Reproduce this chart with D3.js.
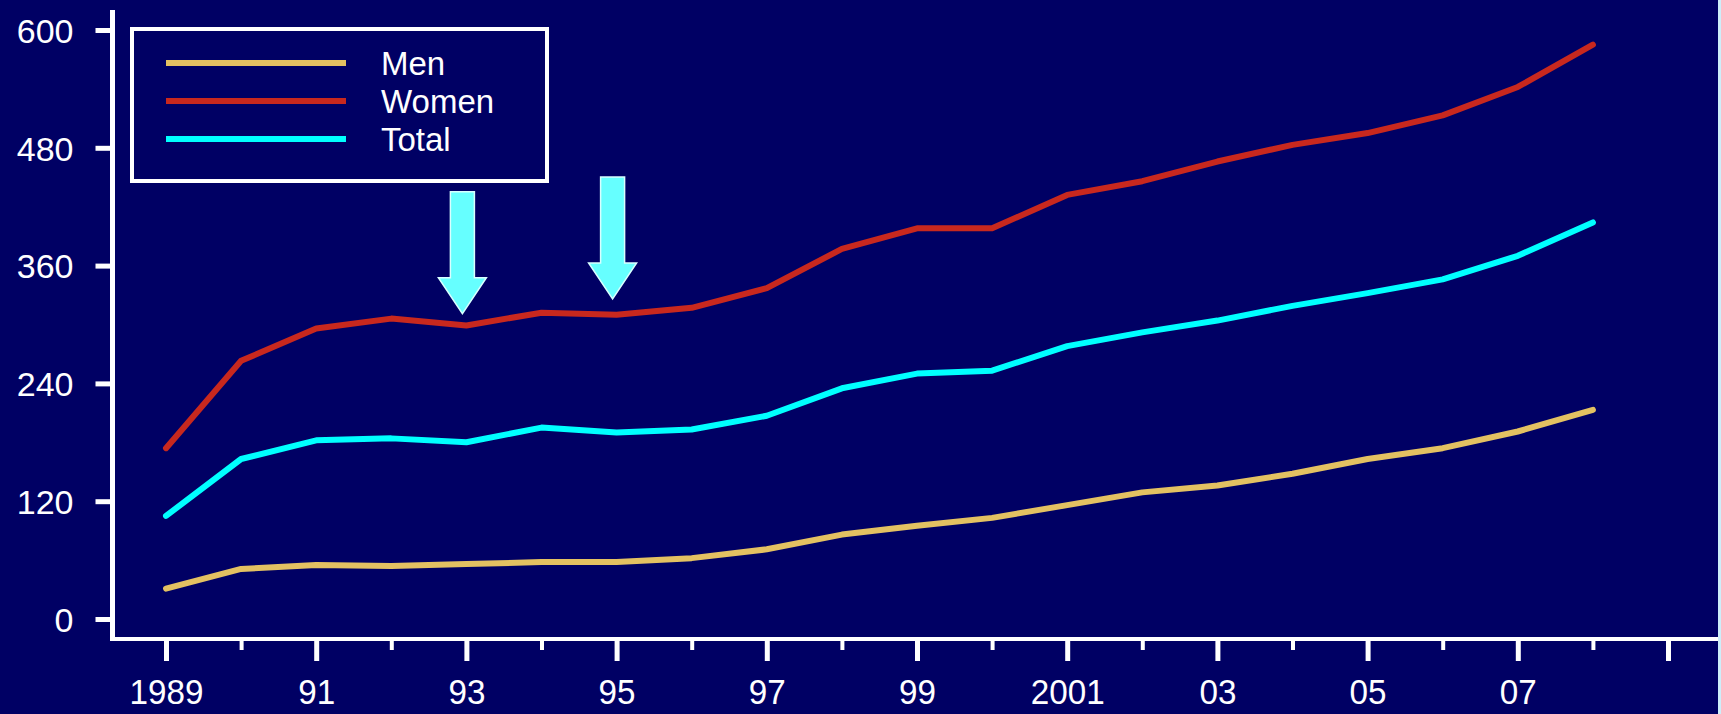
<!DOCTYPE html>
<html>
<head>
<meta charset="utf-8">
<script src="https://cdn.jsdelivr.net/npm/d3@7"></script>
<style>
  html, body { margin: 0; padding: 0; background: #000064; }
  svg { display: block; }
  text { font-family: "Liberation Sans", Arial, sans-serif; fill: #ffffff; }
</style>
</head>
<body>
<div id="chart"></div>
<script>
(function() {
	// years on the x axis
	var years = [1989, 1990, 1991, 1992, 1993, 1994, 1995, 1996, 1997, 1998,
		1999, 2000, 2001, 2002, 2003, 2004, 2005, 2006, 2007, 2008];

	var men = [31, 51, 55, 54, 56, 58, 58, 62, 71, 86, 95, 103, 116, 129, 136, 148, 163, 174, 191, 213];
	var women = [174, 263, 296, 306, 299, 312, 310, 317, 337, 377, 398, 398, 432, 446, 466, 483, 495, 513, 542, 585];
	var total = [105, 163, 182, 184, 180, 195, 190, 193, 207, 235, 250, 253, 278, 292, 304, 319, 332, 346, 370, 404];

	var seriesNames = ["Men", "Women", "Total"];
	var seriesColors = ["#e3c162", "#c8281e", "#00ffff"];

	var yTicks = [0, 120, 240, 360, 480, 600];
	var xMajor = [1989, 1991, 1993, 1995, 1997, 1999, 2001, 2003, 2005, 2007, 2009];
	var xMajorLabels = ["1989", "91", "93", "95", "97", "99", "2001", "03", "05", "07", ""];
	var xMinor = [1990, 1992, 1994, 1996, 1998, 2000, 2002, 2004, 2006, 2008];

	// arrows pointing at the dips
	var arrowYears = [1993, 1995];
	var arrowTips = [311, 326];

	var width = 1721, height = 714;

	var svg = d3.select("#chart")
		.append("svg")
		.attr("width", width)
		.attr("height", height);

	svg.append("rect")
		.attr("width", width)
		.attr("height", height)
		.attr("fill", "#000064");

	var x = d3.scaleLinear().domain([1989, 2009]).range([166, 1668]);
	var y = d3.scaleLinear().domain([0, 600]).range([619, 30]);

	// y axis
	var yAxis = d3.axisLeft(y)
		.tickValues(yTicks)
		.tickSize(17)
		.tickPadding(22);

	var yg = svg.append("g")
		.attr("transform", "translate(112.5,0)")
		.call(yAxis);
	yg.select(".domain").remove();
	yg.selectAll("line").attr("stroke", "#fff").attr("stroke-width", 5);
	yg.selectAll("text")
		.attr("fill", "#fff")
		.style("font-size", "34px")
		.attr("dy", "0.36em");

	// x axis, major and minor ticks
	var xAxis = d3.axisBottom(x)
		.tickValues(xMajor)
		.tickSize(22)
		.tickFormat(function(d, i) { return xMajorLabels[i]; });

	var xg = svg.append("g")
		.attr("transform", "translate(0,639)")
		.call(xAxis);
	xg.select(".domain").remove();
	xg.selectAll("line").attr("stroke", "#fff").attr("stroke-width", 5);
	xg.selectAll("text")
		.attr("fill", "#fff")
		.attr("y", 65)
		.attr("dy", 0)
		.style("font-size", "35px")
		.attr("transform", "scale(0.95,1)");

	var xgMinor = svg.append("g")
		.attr("transform", "translate(0,639)")
		.call(d3.axisBottom(x).tickValues(xMinor).tickSize(11).tickFormat(""));
	xgMinor.select(".domain").remove();
	xgMinor.selectAll("line").attr("stroke", "#fff").attr("stroke-width", 4);

	// axis lines
	svg.append("line")
		.attr("x1", 112.5).attr("x2", 112.5)
		.attr("y1", 10).attr("y2", 641)
		.attr("stroke", "#fff").attr("stroke-width", 5);
	svg.append("line")
		.attr("x1", 110).attr("x2", width)
		.attr("y1", 639).attr("y2", 639)
		.attr("stroke", "#fff").attr("stroke-width", 4);

	// series lines
	var series = [men, women, total];
	var line = d3.line()
		.x(function(d, i) { return x(years[i]); })
		.y(function(d) { return y(d); });

	svg.selectAll(".series")
		.data(series)
		.enter()
		.append("path")
		.attr("class", "series")
		.attr("d", line)
		.attr("fill", "none")
		.attr("stroke", function(d, i) { return seriesColors[i]; })
		.attr("stroke-width", 6)
		.attr("stroke-linejoin", "round")
		.attr("stroke-linecap", "round");

	// arrows
	svg.selectAll(".arrow")
		.data(arrowYears)
		.enter()
		.append("path")
		.attr("class", "arrow")
		.attr("d", function(d, i) {
			var tx = x(d) - 4, ty = y(arrowTips[i]);
			var p = [[tx - 12, ty - 122], [tx + 12, ty - 122], [tx + 12, ty - 36], [tx + 24, ty - 36],
				[tx, ty], [tx - 24, ty - 36], [tx - 12, ty - 36]];
			return "M" + p.join("L") + "Z";
		})
		.attr("fill", "#66ffff")
		.attr("stroke", "#d8ffff")
		.attr("stroke-width", 1.5);

	// legend
	var legend = svg.append("g");
	legend.append("rect")
		.attr("x", 132).attr("y", 29)
		.attr("width", 415).attr("height", 152)
		.attr("fill", "none")
		.attr("stroke", "#fff")
		.attr("stroke-width", 4);

	var items = legend.selectAll(".item")
		.data(seriesNames)
		.enter()
		.append("g")
		.attr("class", "item")
		.attr("transform", function(d, i) { return "translate(0," + (63 + i * 38) + ")"; });

	items.append("line")
		.attr("x1", 166).attr("x2", 346)
		.attr("stroke", function(d, i) { return seriesColors[i]; })
		.attr("stroke-width", 6);

	items.append("text")
		.attr("x", 381)
		.attr("dy", "0.36em")
		.style("font-size", "33px")
		.text(function(d) { return d; });

	// thin light strip at the right edge
	svg.append("rect")
		.attr("x", 1718).attr("y", 0)
		.attr("width", 3).attr("height", height)
		.attr("fill", "#cdeefa");
})();
</script>
</body>
</html>
